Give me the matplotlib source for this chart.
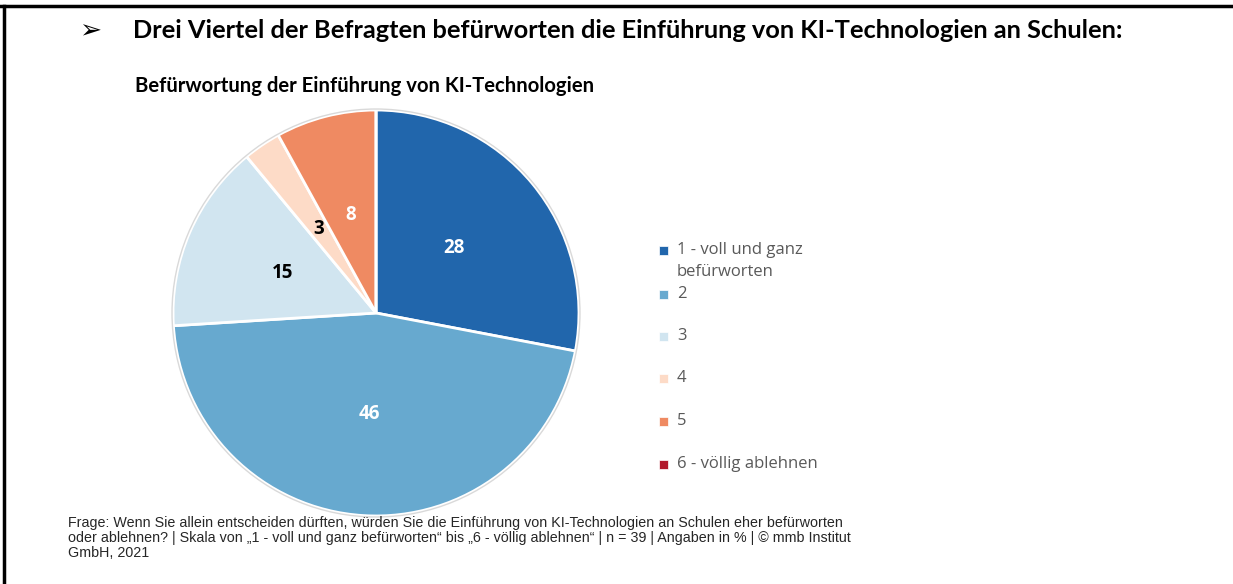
import numpy as np
import matplotlib.pyplot as plt
from matplotlib.lines import Line2D
from matplotlib.patches import Rectangle

# data
categories = ['1 - voll und ganz\nbefürworten', '2', '3', '4', '5', '6 - völlig ablehnen']
values = [28, 46, 15, 3, 8, 0]
colors = ['#2166ac', '#67a9cf', '#d1e5f0', '#fddbc7', '#ef8a62', '#b2182b']
label_colors = ['white', 'white', 'black', 'black', 'white', 'white']

headline = 'Drei Viertel der Befragten befürworten die Einführung von KI-Technologien an Schulen:'
chart_title = 'Befürwortung der Einführung von KI-Technologien'
footnote = ['Frage: Wenn Sie allein entscheiden dürften, würden Sie die Einführung von KI-Technologien an Schulen eher befürworten',
            'oder ablehnen? | Skala von „1 - voll und ganz befürworten“ bis „6 - völlig ablehnen“ | n = 39 | Angaben in % | © mmb Institut',
            'GmbH, 2021']

W, H = 1233, 584
fig = plt.figure(figsize=(W / 100, H / 100), dpi=100)

# frame lines (top and left only)
fig.add_artist(Line2D([0, 1], [1 - 5.5 / H, 1 - 5.5 / H], color='black', lw=2.5, transform=fig.transFigure))
fig.add_artist(Line2D([4 / W, 4 / W], [0, 1 - 5.5 / H], color='black', lw=2.5, transform=fig.transFigure))

fig.text(79 / W, 1 - 31 / H, '➢', fontsize=19, family=['DejaVu Sans'], va='center', ha='left')
fig.text(133 / W, 1 - 31 / H, headline, fontsize=18.3, fontweight='bold',
         family=['Lato', 'DejaVu Sans'], va='center', ha='left')
fig.text(135 / W, 1 - 86 / H, chart_title, fontsize=14.6, fontweight='bold',
         family=['Lato', 'DejaVu Sans'], va='center', ha='left')

# pie
cx, cy, r = 376, 313, 205
ax = fig.add_axes([(cx - r) / W, (H - cy - r) / H, 2 * r / W, 2 * r / H])
wedges, texts, autotexts = ax.pie(
    values, colors=colors, startangle=90, counterclock=False,
    autopct=lambda p: '' if p < 0.5 else '%d' % round(p), pctdistance=0.5,
    wedgeprops=dict(edgecolor='white', linewidth=2),
    textprops=dict(fontsize=13.5, fontweight='bold', family=['Open Sans', 'DejaVu Sans']))
for t, c in zip(autotexts, label_colors):
    t.set_color(c)
ax.add_patch(plt.Circle((0, 0), 1.005, fill=False, edgecolor='#d9d9d9', lw=1))
ax.set_xlim(-1.01, 1.01)
ax.set_ylim(-1.01, 1.01)
ax.set_aspect('equal')
ax.axis('off')

# legend
leg_y = [250, 294, 336, 378, 421, 464]
for lab, col, y in zip(categories, colors, leg_y):
    fig.add_artist(Rectangle(((663 - 4.5) / W, (H - y - 4.5) / H), 9 / W, 9 / H, facecolor=col,
                             edgecolor='white', lw=0.5, transform=fig.transFigure))
    for k, line in enumerate(lab.split('\n')):
        fig.text(677 / W, 1 - (y + 22 * k) / H, line, fontsize=12, color='#595959',
                 va='center', ha='left', family=['Open Sans', 'DejaVu Sans'])

for k, line in enumerate(footnote):
    fig.text(68 / W, 1 - (523 + 15 * k) / H, line, fontsize=10.3, color='#262626',
             va='center', ha='left', family=['Liberation Sans', 'DejaVu Sans'])

fig.savefig('out.png', dpi=100)
